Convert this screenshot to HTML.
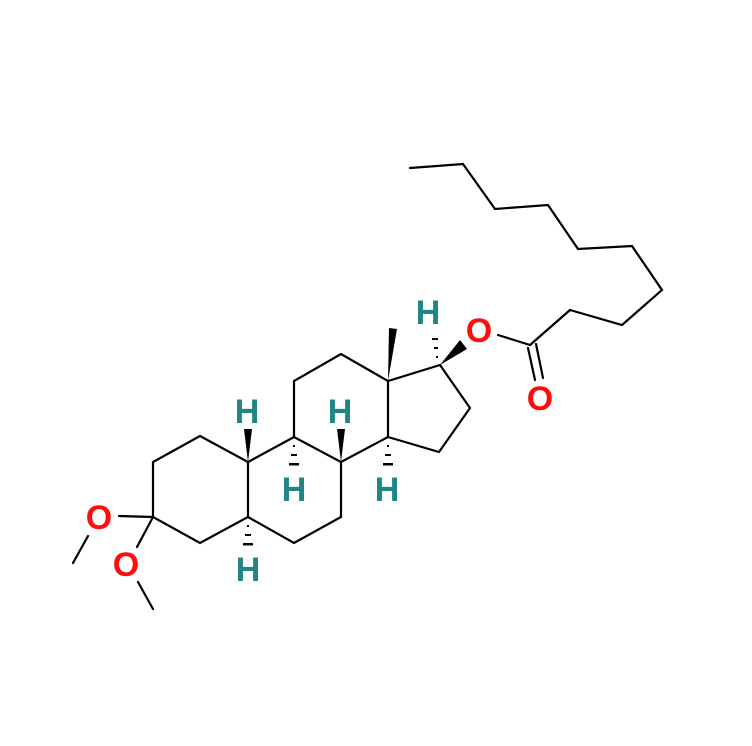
<!DOCTYPE html>
<html><head><style>body{margin:0;background:#fff}svg{display:block}</style></head>
<body>
<svg width="752" height="746" viewBox="0 0 752 746" xmlns="http://www.w3.org/2000/svg">
<g stroke="#000" stroke-width="2.2" fill="none" stroke-linecap="round">
<!-- ring A -->
<polyline points="200,436 153,462 153,517 200,543 248,517 248,462 200,436"/>
<!-- ring B -->
<polyline points="248,517 294,543 341,517 341,462 294,437 248,462"/>
<!-- ring C -->
<polyline points="294,437 294,381 341,354 388,381 388,437 341,462"/>
<!-- ring D -->
<polyline points="388,381 440,365 470,408 439,452 388,437"/>
<!-- methoxys -->
<line x1="153" y1="517" x2="119" y2="516"/>
<line x1="88" y1="536" x2="73" y2="563"/>
<line x1="153" y1="517" x2="137" y2="547"/>
<line x1="138" y1="582" x2="153" y2="609"/>
<!-- ester -->
<line x1="498" y1="335" x2="530" y2="345"/>
<line x1="530" y1="345" x2="570" y2="310"/>
<line x1="528" y1="348" x2="535" y2="380"/>
<line x1="536" y1="344" x2="543" y2="378"/>
<polyline points="570,310 622,325 662,290 632,246 578,249 548,205 495,209 463,164 410,168"/>
</g>
<g fill="#000">
<!-- wedges -->
<polygon points="248,462 244,429 252,429"/>
<polygon points="341,462 337,429 345,429"/>
<polygon points="388,381 389,328 397,329"/>
<polygon points="440,365 460,340 467,349"/>
<!-- hashes -->
<rect x="293" y="445" width="2" height="2"/><rect x="291" y="454" width="6" height="2"/><rect x="289" y="463" width="10" height="2.5"/>
<rect x="387" y="445" width="2" height="2"/><rect x="385" y="454" width="6" height="2"/><rect x="383" y="463" width="10" height="2.5"/>
<rect x="247" y="525" width="2" height="2"/><rect x="245" y="534" width="6" height="2"/><rect x="243" y="543" width="10" height="2.5"/>
<rect x="436" y="356" width="2" height="2"/><rect x="434" y="347" width="4" height="2"/><rect x="432" y="338" width="6" height="2"/>
</g>
<g font-family="Liberation Sans, sans-serif" font-weight="bold" font-size="34" text-anchor="middle">
<g fill="#1f8585">
<text x="247" y="423">H</text>
<text x="294" y="501">H</text>
<text x="340" y="423">H</text>
<text x="387" y="501">H</text>
<text x="248" y="581">H</text>
<text x="428" y="324">H</text>
</g>
<g fill="#ff0d0d">
<text x="99" y="529">O</text>
<text x="126" y="576">O</text>
<text x="479" y="342">O</text>
<text x="540" y="410">O</text>
</g>
</g>
</svg>
</body></html>
